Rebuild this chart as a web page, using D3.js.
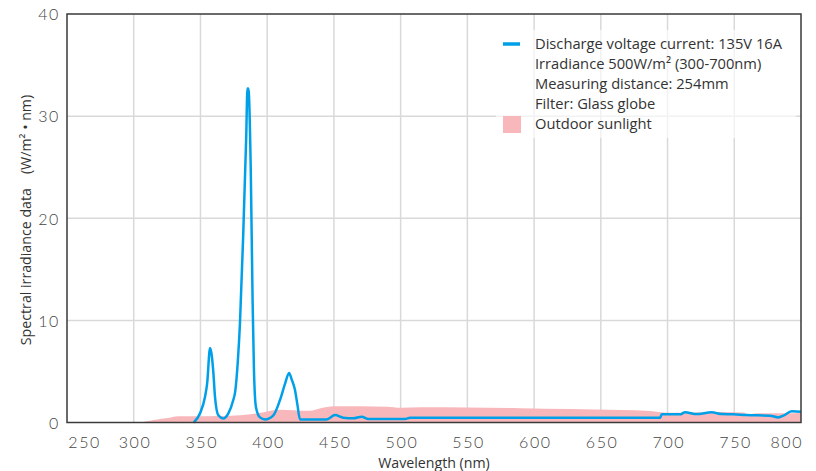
<!DOCTYPE html>
<html><head><meta charset="utf-8">
<script src="https://cdn.jsdelivr.net/npm/d3@7"></script>
<style>
body{margin:0;background:#fff;}
svg{display:block;}
</style></head>
<body>
<svg id="chart" width="816" height="471"></svg>
<script>
// Lamp spectrum (blue line)
const lampWavelengths = [345,349.7,353.4,355,357.2,358.2,359.6,360.9,363.4,367,370.9,374.6,376,378,379.6,382,384.3,385.2,385.9,387.7,389.1,390.1,391.6,394.6,398.4,404.6,409.6,413.4,416.4,418.4,420.8,422.7,424.6,444.6,450.8,457,464.5,470.8,475.8,503.3,507,694.4,695.6,709.3,713.1,721.8,733,740.6,749.3,759.3,776.8,783,786.8,793,800];
const lampValues = [0,0.9,2.5,3.8,7.3,6.8,5.0,2.5,0.7,0.4,0.9,2.2,3.0,6.0,9.7,18.2,28,32.7,32.7,24.7,11.7,5.1,1.5,0.5,0.3,0.7,2.2,3.8,4.85,4.2,3.2,1.7,0.3,0.3,0.73,0.47,0.41,0.57,0.34,0.34,0.47,0.47,0.8,0.8,1.0,0.83,1.0,0.83,0.8,0.73,0.67,0.5,0.67,1.1,1.06];
// Outdoor sunlight (pink area)
const sunWavelengths = [303,307,315,327,333,340,365,380,395,405,410,420,425,432,440,450,470,490,500,515,550,590,627,665,687,700,715,740,757,760,767,790,800];
const sunValues = [0,0.05,0.25,0.47,0.6,0.6,0.64,0.7,0.95,1.2,1.25,1.2,1.15,1.15,1.4,1.6,1.6,1.55,1.45,1.5,1.48,1.4,1.32,1.22,1.13,0.96,0.96,1.03,0.98,0.8,0.9,0.9,0.96];
const xTicks = [250,300,350,400,450,500,550,600,650,700,750,800];
const yTicks = [0,10,20,30,40];
const legendLines = ["Discharge voltage current: 135V 16A","Irradiance 500W/m² (300-700nm)","Measuring distance: 254mm","Filter: Glass globe"];
const legendSun = "Outdoor sunlight";
const xTitle = "Wavelength (nm)";
const yTitle = "Spectral irradiance data\u3000(W/m² • nm)";

const svg = d3.select("#chart");
const L = 67, R = 801, T = 14, B = 422.5;
const x = d3.scaleLinear().domain([250,800]).range([L,R]);
const y = d3.scaleLinear().domain([0,40]).range([B,T]);
const W = R-L, H = B-T;

// grid
const grid = svg.append("g");
grid.selectAll("line.v").data(xTicks.filter(d=>d>250&&d<800)).enter().append("line")
  .attr("x1",d=>x(d)).attr("x2",d=>x(d)).attr("y1",T).attr("y2",B)
  .attr("stroke","#d9d9d9").attr("stroke-width",1.5);
grid.selectAll("line.h").data(yTicks.filter(d=>d>0&&d<40)).enter().append("line")
  .attr("x1",L).attr("x2",R).attr("y1",d=>y(d)).attr("y2",d=>y(d))
  .attr("stroke","#d9d9d9").attr("stroke-width",1.5);

// sunlight area
const sunData = sunWavelengths.map((w,i)=>[w,sunValues[i]]);
svg.append("path").datum(sunData)
  .attr("fill","#f8b8bb")
  .attr("d", d3.area().x(d=>x(d[0])).y0(y(0)).y1(d=>y(d[1])).curve(d3.curveMonotoneX));

// lamp line
const lampData = lampWavelengths.map((w,i)=>[w,lampValues[i]]);
svg.append("path").datum(lampData)
  .attr("fill","none").attr("stroke","#00a0e9").attr("stroke-width",2.5)
  .attr("stroke-linejoin","round")
  .attr("d", d3.line().x(d=>x(d[0])).y(d=>y(d[1])).curve(d3.curveMonotoneX));

// frame
svg.append("rect").attr("x",L).attr("y",T).attr("width",W).attr("height",H)
  .attr("fill","none").attr("stroke","#3a3a3a").attr("stroke-width",1.5);

// axes
const tickFont = "Lato, 'DejaVu Sans', sans-serif";
const xAxis = d3.axisBottom(x).tickValues(xTicks).tickSize(0).tickPadding(0).tickFormat(d3.format("d"));
const gx = svg.append("g").attr("transform",`translate(0,${B})`).call(xAxis);
gx.select(".domain").remove();
gx.selectAll("text")
  .attr("y",20).attr("dy","0.32em")
  .attr("font-family",tickFont).attr("font-weight",300).attr("font-size",16)
  .attr("letter-spacing","1.6px").attr("fill","#444")
  .attr("text-anchor",d=>d===250?"start":(d===800?"end":"middle"))
  .attr("dx",d=>d===800?"1.6px":"0.8px");

const yAxis = d3.axisLeft(y).tickValues(yTicks).tickSize(0).tickPadding(0).tickFormat(d3.format("d"));
const gy = svg.append("g").attr("transform",`translate(${L},0)`).call(yAxis);
gy.select(".domain").remove();
gy.selectAll("text")
  .attr("x",-7).attr("dy","0.36em")
  .attr("font-family",tickFont).attr("font-weight",300).attr("font-size",16)
  .attr("letter-spacing","1.6px").attr("fill","#444");

// titles
const labFont = "'Open Sans', 'Noto Sans', sans-serif";
svg.append("text").attr("x",434).attr("y",468).attr("text-anchor","middle")
  .attr("font-family",labFont).attr("font-size",14.2).attr("fill","#333").text(xTitle);
svg.append("text").attr("transform","translate(31,220) rotate(-90)").attr("text-anchor","middle")
  .attr("font-family",labFont).attr("font-size",14.2).attr("fill","#333").text(yTitle);

// legend
svg.append("rect").attr("x",496).attr("y",30).attr("width",300).attr("height",108)
  .attr("fill","#fff").attr("opacity",0.65);
svg.append("line").attr("x1",503).attr("x2",520).attr("y1",44).attr("y2",44)
  .attr("stroke","#00a0e9").attr("stroke-width",3.5);
svg.append("rect").attr("x",503).attr("y",116).attr("width",18).attr("height",17).attr("fill","#f8b8bb");
const lg = svg.append("g").attr("font-family",labFont).attr("font-size",14.7).attr("fill","#333");
legendLines.concat([legendSun]).forEach((t,i)=>{
  lg.append("text").attr("x",535).attr("y",44+i*20).attr("dy","0.35em").text(t);
});
</script>
</body></html>
